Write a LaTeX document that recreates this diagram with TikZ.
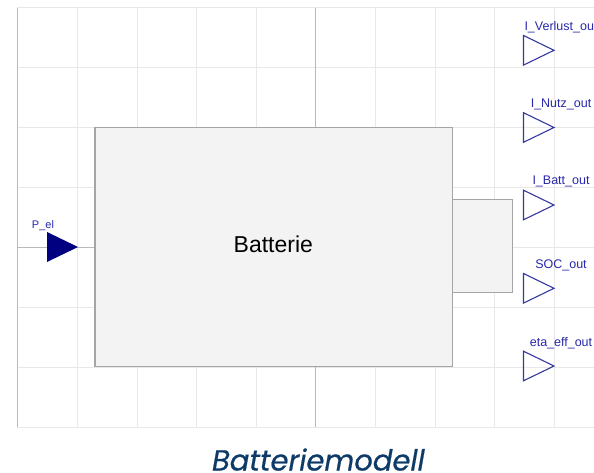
\documentclass[tikz,border=0pt]{standalone}
\usepackage{fontspec}
\setmainfont{Liberation Sans}
\newfontfamily\capfont{Poppins}[ItalicFeatures={FakeBold=0.6}]
\definecolor{gridc}{RGB}{232,232,232}
\definecolor{axisc}{RGB}{185,185,185}
\definecolor{boxfill}{RGB}{243,243,243}
\definecolor{boxline}{RGB}{165,165,165}
\definecolor{navyin}{RGB}{0,0,128}
\definecolor{portc}{RGB}{55,55,160}
\definecolor{labc}{RGB}{40,40,170}
\definecolor{capc}{RGB}{14,58,104}
\begin{document}
\begin{tikzpicture}[x=1pt,y=-1pt,
  gridline/.style={draw=gridc,line width=1pt},
  axisline/.style={draw=axisc,line width=1pt},
  blockbox/.style={draw=boxline,fill=boxfill,line width=1.4pt,inner sep=0pt},
  outport/.style={draw=portc,line width=1.1pt,line join=miter},
  portlabel/.style={text=labc,font=\fontsize{12.5}{14}\selectfont,anchor=base,inner sep=0pt},
]
\useasboundingbox (0,0) rectangle (594,473);
% grid
\foreach \x in {77,137,196,256,375,435,494,554}
  \draw[gridline] (\x,8) -- (\x,427);
\foreach \y in {8,68,128,188,307,367,427}
  \draw[gridline] (17,\y) -- (600,\y);
\draw[gridline] (512,247) -- (600,247);
\draw[axisline] (315,8) -- (315,427);
\draw[axisline] (17,247) -- (453,247);
\draw[axisline] (17,8) -- (17,427);
% blocks
\node[blockbox,minimum width=59.6pt,minimum height=92.6pt] (sub) at (482.5,246) {};
\node[blockbox,minimum width=357.7pt,minimum height=239pt] (batt) at (273.85,247.2) {};
\node[anchor=base,inner sep=0pt,font=\fontsize{23}{26}\selectfont] (battlabel) at (273.3,252.3) {Batterie};
% input
\coordinate (pin) at (47,247);
\fill[navyin] (47,232) -- (78,247) -- (47,262) -- cycle;
\node[portlabel,font=\fontsize{11}{13}\selectfont] (pellab) at (43,229) {P\_el};
% outputs
\foreach \n/\yy/\t in {verl/50.3/I\_Verlust\_out, nutz/127.5/I\_Nutz\_out, batt/205/I\_Batt\_out, soc/288.3/SOC\_out, eta/366/eta\_eff\_out}{
  \draw[outport] (523.5,\yy-14.8) -- (554,\yy) -- (523.5,\yy+14.8) -- cycle;
  \node[portlabel] (lab\n) at (561,\yy-20) {\t};
}
% caption
\node[anchor=base,inner sep=0pt,text=capc,font=\capfont\itshape\fontsize{29}{32}\selectfont] (caption) at (318.4,470.5) {Batteriemodell};
\end{tikzpicture}
\end{document}
